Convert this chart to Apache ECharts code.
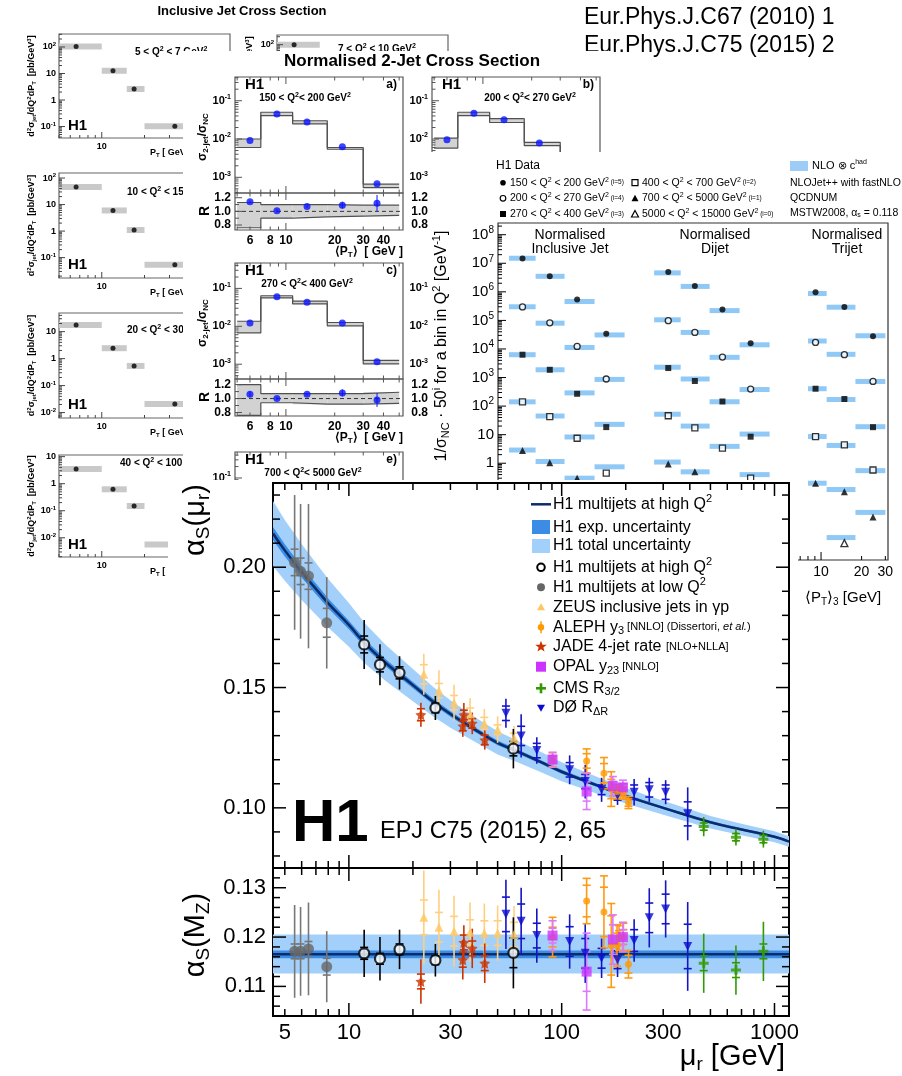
<!DOCTYPE html>
<html>
<head>
<meta charset="utf-8">
<script src="https://cdn.jsdelivr.net/npm/echarts@6/dist/echarts.min.js"></script>
<style>
  html, body { margin: 0; padding: 0; background: #fff; }
  body { width: 902px; height: 1076px; position: relative; overflow: hidden; }
  .fig { position: absolute; background: #fff; }
</style>
</head>
<body>
<div id="incl" class="fig" style="left:0;top:0;width:902px;height:1076px"></div>
<div id="dijet" class="fig" style="left:183px;top:51px;width:430px;height:430px"></div>
<div id="norm" class="fig" style="left:430px;top:152px;width:472px;height:470px"></div>
<div id="main" class="fig" style="left:168px;top:480px;width:630px;height:596px"></div>
<script>
const F = '"Liberation Sans", Arial, Helvetica, sans-serif';

// ---------- inclusive jet panels (background, left) ----------
const inclEdges = [5, 10, 15, 20, 80];
const inclPt = [6.6, 12.0, 16.9, 32.7];
const inclQ5to7 = [104, 12.7, 2.6, 0.103];
const inclQ10to15 = [46, 6.0, 1.1, 0.054];
const inclQ20to30 = [17.7, 2.43, 0.536, 0.021];
const inclQ40to100 = [3.5, 0.62, 0.15, 0.0057];
const inclQ7to10 = [100, 11, 2.3, 0.09];

// ---------- normalised 2-jet panels (background, middle) ----------
const djEdges = [5, 7, 11, 18, 30, 50];
const djPt = [6.0, 8.8, 13.5, 22.3, 36.5];
const djA = [0.0092, 0.045, 0.0278, 0.0063, 0.00068];
const djAlo = [0.006, 0.041, 0.025, 0.0054, 0.00054];
const djAhi = [0.010, 0.050, 0.030, 0.0060, 0.00066];
const djAratio = [1.14, 1.01, 1.07, 1.09, 1.12];
const djAratioErr = [0.02, 0.02, 0.02, 0.05, 0.12];
const djAratioLo = [0.76, 0.90, 0.92, 0.93, 0.94];
const djAratioHi = [1.13, 1.10, 1.10, 1.09, 1.09];
const djB = [0.0095, 0.047, 0.032, 0.0079, 0.0008];
const djBlo = [0.0058, 0.041, 0.027, 0.0067, 0.0007];
const djBhi = [0.0106, 0.050, 0.034, 0.0082, 0.0009];
const djC = [0.0123, 0.060, 0.0428, 0.0123, 0.00117];
const djClo = [0.0067, 0.056, 0.039, 0.0103, 0.00102];
const djChi = [0.0136, 0.064, 0.046, 0.0126, 0.00126];
const djCratio = [1.06, 1.00, 1.06, 1.08, 0.98];
const djCratioErr = [0.04, 0.02, 0.02, 0.05, 0.10];
const djCratioLo = [0.76, 0.94, 0.92, 0.92, 0.93];
const djCratioHi = [1.20, 1.07, 1.07, 1.07, 1.09];

// ---------- normalised multijet figure (background, right) ----------
const nInclEdges = [7, 11, 18, 30, 50];
const nInclPt = [8.8, 14.0, 22.3, 36.6];
const nInclData = {
  i5: [1.47e7, 3.5e6, 5.4e5, 3.4e4], i4: [2.97e5, 8.2e4, 1.23e4, 890], i3: [6.3e3, 1.87e3, 270, 18.4],
  i2: [141, 43, 7.5, 0.45], i1: [2.77, 1.05, 0.3, 0.012]
};
const nInclNlo = {
  i5: [1.5e7, 3.5e6, 4.6e5, 3.1e4], i4: [3.0e5, 8.0e4, 1.13e4, 860], i3: [6.3e3, 1.87e3, 290, 23],
  i2: [141, 45, 8.3, 0.75], i1: [2.9, 1.15, 0.3, 0.012]
};
const nDijEdges = [7, 11, 18, 30, 50];
const nDijPt = [8.9, 14.0, 22.4, 36.2];
const nDijData = {
  i5: [5.0e6, 1.6e6, 2.4e5, 1.6e4], i4: [9.8e4, 3.8e4, 5.2e3, 395], i3: [2.15e3, 755, 145, 8.5],
  i2: [46, 17.4, 3.4, 0.3], i1: [0.95, 0.5, 0.06, 0.01]
};
const nDijNlo = {
  i5: [4.6e6, 1.55e6, 2.2e5, 1.4e4], i4: [1.05e5, 3.8e4, 5.1e3, 380], i3: [2.3e3, 890, 142, 10.5],
  i2: [52, 20, 3.9, 0.4], i1: [1.1, 0.5, 0.07, 0.012]
};
const nTriEdges = [8, 11, 18, 30];
const nTriPt = [9.1, 14.9, 24.3];
const nTriData = {
  i5: [9.7e5, 2.97e5, 2.8e4], i4: [1.7e4, 6.3e3, 730], i3: [406, 177, 18.3],
  i2: [8.6, 4.4, 0.58], i1: [0.2, 0.1, 0.013], i0: [null, 0.0016, null]
};
const nTriNlo = {
  i5: [8.7e5, 2.9e5, 2.9e4], i4: [1.9e4, 6.5e3, 730], i3: [406, 170, 19],
  i2: [8.6, 4.2, 0.55], i1: [0.2, 0.12, 0.019], i0: [null, 0.0025, null]
};

// ---------- main figure: alpha_s running ----------
const curveMu = [4.4, 5, 6, 7, 8, 10, 12, 15, 20, 25, 30, 40, 50, 60, 80, 100, 150, 200, 300, 500, 700, 1000, 1170];
const curveAs = [0.214, 0.207, 0.198, 0.191, 0.185, 0.176, 0.168, 0.160, 0.151, 0.144, 0.139, 0.132, 0.127, 0.124, 0.119, 0.115, 0.109, 0.105, 0.100, 0.094, 0.091, 0.088, 0.086];
const curveTotErr = [0.0135, 0.0126, 0.0116, 0.0108, 0.0101, 0.0091, 0.0083, 0.0075, 0.0067, 0.0061, 0.0057, 0.0051, 0.0048, 0.0045, 0.0042, 0.0039, 0.0035, 0.0032, 0.0029, 0.0026, 0.0024, 0.0023, 0.0022];
const curveExpErr = [0.0027, 0.0025, 0.0023, 0.0022, 0.0020, 0.0018, 0.0017, 0.0015, 0.0013, 0.0012, 0.0011, 0.0010, 0.0010, 0.0009, 0.0008, 0.0008, 0.0007, 0.0006, 0.0006, 0.0005, 0.0005, 0.0005, 0.0004];
const mzMu = [4.4, 1170];
const mzFit = [0.1165, 0.1165];
const mzTotLo = [0.1126, 0.1126], mzTotHi = [0.1205, 0.1205];
const mzExpLo = [0.1157, 0.1157], mzExpHi = [0.1173, 0.1173];

const h1HighMu = [11.8, 14.0, 17.3, 25.5, 59.3];
const h1HighAs = [0.1679, 0.1595, 0.1561, 0.1415, 0.1246];
const h1HighTot = [0.0102, 0.0085, 0.0069, 0.0050, 0.0082];
const h1HighExp = [0.0035, 0.0030, 0.0025, 0.0020, 0.0030];
const h1HighMz = [0.1167, 0.1156, 0.1175, 0.1153, 0.1168];
const h1HighMzTot = [0.0048, 0.0044, 0.0040, 0.0033, 0.0072];
const h1HighMzExp = [0.0012, 0.0011, 0.0011, 0.0009, 0.0030];

const h1LowMu = [5.56, 5.93, 6.46, 7.87];
const h1LowAs = [0.2020, 0.1983, 0.1963, 0.1769];
const h1LowTot = [0.028, 0.028, 0.030, 0.019];
const h1LowExp = [0.0055, 0.0055, 0.0055, 0.0060];
const h1LowMz = [0.1171, 0.1171, 0.1176, 0.1140];
const h1LowMzTot = [0.0094, 0.0090, 0.0094, 0.0072];
const h1LowMzExp = [0.0015, 0.0015, 0.0015, 0.0017];

const zeusMu = [22.5, 26.5, 31.2, 37.1, 43.3, 50.0, 59.7];
const zeusAs = [0.1555, 0.1487, 0.1437, 0.1390, 0.1351, 0.1325, 0.1290];
const zeusTot = [0.0085, 0.0085, 0.0075, 0.0065, 0.0060, 0.0055, 0.0050];
const zeusExp = [0.0040, 0.0030, 0.0030, 0.0025, 0.0025, 0.0020, 0.0020];
const zeusMz = [0.1240, 0.1220, 0.1212, 0.1210, 0.1208, 0.1208, 0.1205];
const zeusMzTot = [0.0095, 0.0076, 0.0072, 0.0060, 0.0060, 0.0056, 0.0058];
const zeusMzExp = [0.0035, 0.0030, 0.0030, 0.0025, 0.0025, 0.0025, 0.0025];

const jadeMu = [21.8, 34.3, 34.7, 38.0, 43.5];
const jadeAs = [0.1387, 0.1340, 0.1386, 0.1351, 0.1282];
const jadeTot = [0.0050, 0.0045, 0.0050, 0.0045, 0.0040];
const jadeExp = [0.0025, 0.0020, 0.0020, 0.0020, 0.0020];
const jadeMz = [0.1110, 0.1154, 0.1189, 0.1177, 0.1147];
const jadeMzTot = [0.0045, 0.0040, 0.0035, 0.0040, 0.0040];
const jadeMzExp = [0.0015, 0.0015, 0.0015, 0.0015, 0.0015];

const alephMu = [90.6, 131, 158, 171, 182, 186, 195, 206];
const alephAs = [0.1199, 0.1195, 0.1144, 0.1078, 0.1068, 0.1075, 0.1061, 0.1022];
const alephTot = [0.0030, 0.0050, 0.0065, 0.0072, 0.0030, 0.0020, 0.0025, 0.0025];
const alephExp = [0.0015, 0.0030, 0.0040, 0.0040, 0.0020, 0.0015, 0.0015, 0.0015];
const alephMz = [0.1200, 0.1273, 0.1251, 0.1183, 0.1183, 0.1198, 0.1200, 0.1145];
const alephMzTot = [0.0040, 0.0046, 0.0073, 0.0085, 0.0042, 0.0025, 0.0028, 0.0028];
const alephMzExp = [0.0020, 0.0032, 0.0050, 0.0060, 0.0025, 0.0015, 0.0015, 0.0018];

const opalMu = [90.6, 131, 174, 194];
const opalAs = [0.1201, 0.1068, 0.1090, 0.1085];
const opalTot = [0.0030, 0.0075, 0.0040, 0.0030];
const opalExp = [0.0015, 0.0040, 0.0020, 0.0015];
const opalMz = [0.1203, 0.1130, 0.1195, 0.1200];
const opalMzTot = [0.0030, 0.0078, 0.0050, 0.0030];
const opalMzExp = [0.0015, 0.0040, 0.0030, 0.0015];

const cmsMu = [465, 659, 887];
const cmsAs = [0.0922, 0.0878, 0.0870];
const cmsTot = [0.0040, 0.0035, 0.0035];
const cmsExp = [0.0015, 0.0015, 0.0015];
const cmsMz = [0.1147, 0.1133, 0.1171];
const cmsMzTot = [0.0060, 0.0050, 0.0060];
const cmsMzExp = [0.0015, 0.0015, 0.0015];

const d0Mu = [54.7, 64.5, 76.4, 109, 129, 154, 183, 219, 258, 308, 391];
const d0As = [0.1393, 0.1299, 0.1238, 0.1158, 0.1109, 0.1075, 0.1052, 0.1065, 0.1075, 0.1065, 0.0975];
const d0Tot = [0.0060, 0.0090, 0.0055, 0.0060, 0.0070, 0.0050, 0.0040, 0.0055, 0.0050, 0.0050, 0.0110];
const d0Exp = [0.0030, 0.0040, 0.0030, 0.0030, 0.0030, 0.0020, 0.0020, 0.0030, 0.0030, 0.0030, 0.0050];
const d0Mz = [0.1246, 0.1232, 0.1203, 0.1191, 0.1167, 0.1157, 0.1154, 0.1193, 0.1239, 0.1257, 0.1181];
const d0MzTot = [0.0070, 0.0068, 0.0055, 0.0055, 0.0060, 0.0040, 0.0035, 0.0043, 0.0060, 0.0058, 0.0090];
const d0MzExp = [0.0035, 0.0035, 0.0025, 0.0030, 0.0030, 0.0020, 0.0018, 0.0022, 0.0030, 0.0030, 0.0045];

// ---------- helpers ----------
function T(size, weight) { return { fontSize: size, fontFamily: F, fontWeight: weight || 'normal' }; }
function R(size, weight) {
  const sm = Math.round(size * 0.66);
  return {
    b: T(size, weight),
    s: Object.assign(T(sm, weight), { padding: [0, 0, Math.round(size * 0.6), 0] }),
    u: Object.assign(T(sm, weight), { padding: [Math.round(size * 0.5), 0, 0, 0] }),
    m: T(sm, weight),
    i: Object.assign(T(sm, weight), { fontStyle: 'italic' })
  };
}
function txt(x, y, text, size, o) {
  o = o || {};
  return {
    type: 'text', x: x, y: y, rotation: o.rot || 0, z: 100,
    style: { text: text, rich: R(size, o.weight), fill: o.fill || '#000', align: o.align || 'left',
      verticalAlign: o.va || 'middle', fontSize: size, fontFamily: F, fontWeight: o.weight || 'normal' }
  };
}
function decLab(d) {
  return d === 0 ? '{b|1}' : d === 1 ? '{b|10}' : '{b|10}{s|' + (d < 0 ? '-' + (-d) : d) + '}';
}
function logTicks(min, max, majLen, minLen, labelFn) {
  const out = [];
  for (let d = Math.floor(Math.log10(min)); d <= Math.ceil(Math.log10(max)); d++) {
    for (let m = 1; m <= 9; m++) {
      const v = m * Math.pow(10, d);
      if (v >= min * 0.9999 && v <= max * 1.0001) {
        out.push({ v: v, len: m === 1 ? majLen : minLen, label: labelFn ? labelFn(m, d) : '' });
      }
    }
  }
  return out;
}
function tickX(gi, ticks, ref, o) {
  o = o || {};
  return {
    type: 'custom', xAxisIndex: gi, yAxisIndex: gi, silent: true, z: 10,
    data: ticks.map(t => [t.v, ref]),
    renderItem: (p, api) => {
      const cs = p.coordSys, t = ticks[p.dataIndex];
      const x = api.coord([t.v, ref])[0];
      const yb = cs.y + cs.height;
      const st = { stroke: o.color || '#000', lineWidth: o.lw || 1 };
      const ch = [];
      ch.push({ type: 'line', shape: { x1: x, y1: yb, x2: x, y2: yb - t.len }, style: st });
      if (o.mirror) ch.push({ type: 'line', shape: { x1: x, y1: cs.y, x2: x, y2: cs.y + t.len }, style: st });
      if (t.label) ch.push({ type: 'text', x: x, y: yb + (o.gap || 3),
        style: { text: t.label, rich: R(o.size || 10, o.weight), align: 'center', verticalAlign: 'top', fill: '#000' } });
      return { type: 'group', children: ch };
    }
  };
}
function tickY(gi, ticks, ref, o) {
  o = o || {};
  return {
    type: 'custom', xAxisIndex: gi, yAxisIndex: gi, silent: true, z: 10,
    data: ticks.map(t => [ref, t.v]),
    renderItem: (p, api) => {
      const cs = p.coordSys, t = ticks[p.dataIndex];
      const y = api.coord([ref, t.v])[1];
      const st = { stroke: o.color || '#000', lineWidth: o.lw || 1 };
      const ch = [{ type: 'line', shape: { x1: cs.x, y1: y, x2: cs.x + t.len, y2: y }, style: st }];
      if (o.mirror) ch.push({ type: 'line', shape: { x1: cs.x + cs.width, y1: y, x2: cs.x + cs.width - t.len, y2: y }, style: st });
      if (t.label) ch.push({ type: 'text', x: cs.x - (o.gap || 3), y: y,
        style: { text: t.label, rich: R(o.size || 10, o.weight), align: 'right', verticalAlign: 'middle', fill: '#000' } });
      return { type: 'group', children: ch };
    }
  };
}
function errBars(gi, mu, val, tot, exp, color, lw, caps) {
  return {
    type: 'custom', xAxisIndex: gi, yAxisIndex: gi, silent: true, z: 3,
    data: mu.map((m, i) => [m, val[i]]),
    renderItem: (p, api) => {
      const i = p.dataIndex, cs = p.coordSys, m = mu[i], v = val[i];
      const cl = y => Math.max(cs.y, Math.min(cs.y + cs.height, y));
      const x = api.coord([m, v])[0];
      const yT = api.coord([m, v + tot[i]])[1], yB = api.coord([m, v - tot[i]])[1];
      const st = { stroke: color, lineWidth: lw };
      const ch = [{ type: 'line', shape: { x1: x, y1: cl(yT), x2: x, y2: cl(yB) }, style: st }];
      const marks = exp ? [v + exp[i], v - exp[i]].map(q => api.coord([m, q])[1]) : [];
      if (caps) marks.push(yT, yB);
      marks.forEach(y => {
        if (y >= cs.y && y <= cs.y + cs.height) ch.push({ type: 'line', shape: { x1: x - 4, y1: y, x2: x + 4, y2: y }, style: st });
      });
      return { type: 'group', children: ch };
    }
  };
}
function band(gi, xs, lo, hi, color, z) {
  return {
    type: 'custom', xAxisIndex: gi, yAxisIndex: gi, silent: true, clip: true, z: z || 1,
    data: [[xs[0], lo[0]]],
    renderItem: (p, api) => {
      const pts = [];
      xs.forEach((x, i) => pts.push(api.coord([x, hi[i]])));
      for (let i = xs.length - 1; i >= 0; i--) pts.push(api.coord([xs[i], lo[i]]));
      return { type: 'polygon', shape: { points: pts }, style: { fill: color } };
    }
  };
}
function hbars(gi, items, color, h) {
  // items: [lowEdge, value, highEdge]
  return {
    type: 'custom', xAxisIndex: gi, yAxisIndex: gi, silent: true, clip: true, z: 2,
    data: items.map(it => [it[0], it[1]]),
    renderItem: (p, api) => {
      const it = items[p.dataIndex];
      const a = api.coord([it[0], it[1]]), b = api.coord([it[2], it[1]]);
      return { type: 'rect', shape: { x: a[0], y: a[1] - h / 2, width: b[0] - a[0], height: h }, style: { fill: color } };
    }
  };
}
function binRects(gi, edges, lo, hi, color) {
  return {
    type: 'custom', xAxisIndex: gi, yAxisIndex: gi, silent: true, clip: true, z: 1,
    data: lo.map((v, i) => [edges[i], v]),
    renderItem: (p, api) => {
      const i = p.dataIndex;
      const a = api.coord([edges[i], hi[i]]), b = api.coord([edges[i + 1], lo[i]]);
      return { type: 'rect', shape: { x: a[0], y: a[1], width: b[0] - a[0], height: b[1] - a[1] }, style: { fill: color } };
    }
  };
}
function stepLine(gi, edges, vals, color) {
  const d = vals.map((v, i) => [edges[i], v]);
  d.push([edges[edges.length - 1], vals[vals.length - 1]]);
  return { type: 'line', xAxisIndex: gi, yAxisIndex: gi, step: 'end', data: d, showSymbol: false, silent: true,
    lineStyle: { color: color, width: 1.2 }, z: 2 };
}
function gridBox(l, t, w, h, show, color, bw) {
  return { left: l, top: t, width: w, height: h, show: !!show, borderColor: color || '#000', borderWidth: bw || 1,
    backgroundColor: 'transparent', containLabel: false, outerBoundsMode: 'none' };
}
function axis(type, gi, min, max) {
  return { type: type, gridIndex: gi, min: min, max: max, axisLine: { show: false }, axisTick: { show: false },
    axisLabel: { show: false }, splitLine: { show: false } };
}

// ================= figure 1: inclusive jet cross sections =================
(function () {
  const panels = [
    { left: 59, top: 34, h: 104, ymin: 0.037, ymax: 309, vals: inclQ5to7, q: '{b|5 < Q}{s|2}{b| < 7 GeV}{s|2}', qx: 135, qy: 52, h1y: 126 },
    { left: 59, top: 173, h: 105, ymin: 0.017, ymax: 155, vals: inclQ10to15, q: '{b|10 < Q}{s|2}{b| < 15 GeV}{s|2}', qx: 127, qy: 192, h1y: 265 },
    { left: 59, top: 313, h: 105, ymin: 0.0063, ymax: 49, vals: inclQ20to30, q: '{b|20 < Q}{s|2}{b| < 30 GeV}{s|2}', qx: 127, qy: 330, h1y: 405 },
    { left: 59, top: 455, h: 102, ymin: 0.00195, ymax: 11.5, vals: inclQ40to100, q: '{b|40 < Q}{s|2}{b| < 100 GeV}{s|2}', qx: 120, qy: 463, h1y: 545 },
    { left: 277, top: 35, h: 104, ymin: 0.0275, ymax: 232, vals: inclQ7to10, q: '{b|7 < Q}{s|2}{b| < 10 GeV}{s|2}', qx: 338, qy: 49, h1y: 126 }
  ];
  const grid = [], xAxis = [], yAxis = [], series = [], g = [];
  panels.forEach((P, gi) => {
    grid.push(gridBox(P.left, P.top, 171, P.h, true, '#666', 1.2));
    xAxis.push(axis('log', gi, 5, 80));
    yAxis.push(axis('log', gi, P.ymin, P.ymax));
    series.push(hbars(gi, P.vals.map((v, i) => [inclEdges[i], v, inclEdges[i + 1]]), '#c9c9c9', 6));
    series.push({ type: 'scatter', xAxisIndex: gi, yAxisIndex: gi, symbol: 'circle', symbolSize: 5, z: 4,
      itemStyle: { color: '#000' }, data: P.vals.map((v, i) => [inclPt[i], v]) });
    series.push(tickY(gi, logTicks(P.ymin, P.ymax, 6, 3, (m, d) => m === 1 ? decLab(d) : ''), 10, { size: 9, weight: 'bold', gap: 3, color: '#444' }));
    series.push(tickX(gi, logTicks(5, 80, 6, 3, (m, d) => (m === 1 && d === 1) ? '{b|10}' : ''), P.ymin * 1.01, { size: 9, weight: 'bold', gap: 4, color: '#444' }));
    g.push(txt(P.left + 9, P.h1y, '{b|H1}', 15, { weight: 'bold' }));
    g.push(txt(P.qx, P.qy, P.q, 10, { weight: 'bold' }));
    g.push(txt(P.left + 91, P.top + P.h + 15, '{b|P}{u|T}{b| [ GeV ]}', 9, { weight: 'bold' }));
    g.push(txt(P.left - 27, P.top + P.h / 2,
      '{b|d}{s|2}{b|σ}{u|jet}{b|/dQ}{s|2}{b|dP}{u|T}{b|  [pb/GeV}{s|3}{b|]}', 9, { weight: 'bold', align: 'center', rot: Math.PI / 2 }));
  });
  g.push(txt(242, 11, '{b|Inclusive Jet Cross Section}', 13, { weight: 'bold', align: 'center' }));
  g.push(txt(584, 18, '{b|Eur.Phys.J.C67 (2010) 1}', 23, { align: 'left' }));
  g.push(txt(584, 46, '{b|Eur.Phys.J.C75 (2015) 2}', 23, { align: 'left' }));
  const c = echarts.init(document.getElementById('incl'), null, { renderer: 'canvas' });
  c.setOption({ backgroundColor: '#fff', animation: false, grid: grid, xAxis: xAxis, yAxis: yAxis, series: series, graphic: { elements: g } });
})();

// ================= figure 2: normalised 2-jet cross section =================
(function () {
  const xmin = 4.85, xmax = 52.8;
  const panels = [
    { left: 52, top: 26, ymin: Math.pow(10, -3.41), ymax: Math.pow(10, -0.38), rmin: 0.727, rmax: 1.269,
      val: djA, lo: djAlo, hi: djAhi, r: djAratio, rErr: djAratioErr, rlo: djAratioLo, rhi: djAratioHi,
      q: '{b|150 < Q}{s|2}{b|< 200 GeV}{s|2}', qx: 122, tag: 'a)', xlab: true, titles: true },
    { left: 249, top: 26, ymin: Math.pow(10, -3.41), ymax: Math.pow(10, -0.38), rmin: 0.727, rmax: 1.269,
      val: djB, lo: djBlo, hi: djBhi, q: '{b|200 < Q}{s|2}{b|< 270 GeV}{s|2}', qx: 347, tag: 'b)' },
    { left: 52, top: 212, ymin: Math.pow(10, -3.39), ymax: Math.pow(10, -0.33), rmin: 0.75, rmax: 1.28,
      val: djC, lo: djClo, hi: djChi, r: djCratio, rErr: djCratioErr, rlo: djCratioLo, rhi: djCratioHi,
      q: '{b|270 < Q}{s|2}{b|< 400 GeV}{s|2}', qx: 124, tag: 'c)', xlab: true, titles: true },
    { left: 249, top: 212, ymin: Math.pow(10, -3.39), ymax: Math.pow(10, -0.33), rmin: 0.75, rmax: 1.28 },
    { left: 52, top: 401, ymin: Math.pow(10, -3.37), ymax: Math.pow(10, -0.316), noRatio: true,
      q: '{b|700 < Q}{s|2}{b|< 5000 GeV}{s|2}', qx: 130, tag: 'e)' }
  ];
  const grid = [], xAxis = [], yAxis = [], series = [], g = [];
  let gi = 0;
  panels.forEach(P => {
    const gu = gi++;
    grid.push(gridBox(P.left, P.top, 168, 116, true, '#555', 1.2));
    xAxis.push(axis('log', gu, xmin, xmax));
    yAxis.push(axis('log', gu, P.ymin, P.ymax));
    if (P.val) {
      series.push(binRects(gu, djEdges, P.lo, P.hi, '#d2d2d2'));
      series.push(stepLine(gu, djEdges, P.hi, '#505050'));
      series.push(stepLine(gu, djEdges, P.lo, '#505050'));
      series.push({ type: 'scatter', xAxisIndex: gu, yAxisIndex: gu, symbolSize: 7, z: 4,
        itemStyle: { color: '#0a14ff' }, data: P.val.map((v, i) => [djPt[i], v]) });
    }
    series.push(tickY(gu, logTicks(P.ymin, P.ymax, 7, 3.5, (m, d) => m === 1 ? decLab(d) : ''), 10, { size: 11, weight: 'bold', gap: 4, color: '#555' }));
    series.push(tickX(gu, logTicks(xmin, xmax, 7, 3.5), P.ymin * 1.01, { color: '#555', mirror: true }));
    if (P.tag) {
      g.push(txt(P.left + 10, P.top + 8, '{b|H1}', 15, { weight: 'bold' }));
      g.push(txt(P.left + 162, P.top + 8, '{b|' + P.tag + '}', 12, { weight: 'bold', align: 'right' }));
      g.push(txt(P.qx, P.top + 21, P.q, 10, { weight: 'bold', align: 'center' }));
    }
    if (P.noRatio) return;
    const gr = gi++;
    grid.push(gridBox(P.left, P.top + 116, 168, 37, true, '#555', 1.2));
    xAxis.push(axis('log', gr, xmin, xmax));
    yAxis.push(axis('value', gr, P.rmin, P.rmax));
    if (P.r) {
      series.push(binRects(gr, djEdges, P.rlo, P.rhi, '#d2d2d2'));
      series.push(stepLine(gr, djEdges, P.rhi, '#505050'));
      series.push(stepLine(gr, djEdges, P.rlo, '#505050'));
      series.push({ type: 'line', xAxisIndex: gr, yAxisIndex: gr, data: [[xmin, 1], [xmax, 1]], showSymbol: false, silent: true,
        lineStyle: { color: '#333', width: 1, type: [4, 3] }, z: 2 });
      series.push(errBars(gr, djPt, P.r, P.rErr, null, '#0a14ff', 1, false));
      series.push({ type: 'scatter', xAxisIndex: gr, yAxisIndex: gr, symbolSize: 7, z: 4,
        itemStyle: { color: '#0a14ff' }, data: P.r.map((v, i) => [djPt[i], v]) });
    }
    const rt = [0.8, 0.9, 1.0, 1.1, 1.2].map((v, i) => ({ v: v, len: i % 2 === 0 ? 7 : 4, label: i % 2 === 0 ? '{b|' + v.toFixed(1) + '}' : '' }));
    series.push(tickY(gr, rt, 10, { size: 12, weight: 'bold', gap: 4, color: '#555' }));
    const xl = { 6: '6', 8: '8', 10: '10', 20: '20', 30: '30', 40: '40' };
    series.push(tickX(gr, logTicks(xmin, xmax, 7, 3.5, (m, d) => {
      const v = Math.round(m * Math.pow(10, d));
      return xl[v] ? '{b|' + xl[v] + '}' : '';
    }), 1, { color: '#555', mirror: true, size: 12, weight: 'bold', gap: 5 }));
    if (P.titles) {
      g.push(txt(P.left - 32, P.top + 60, '{b|σ}{u|2-jet}{b|/σ}{u|NC}', 12, { weight: 'bold', align: 'center', rot: Math.PI / 2 }));
      g.push(txt(P.left - 30, P.top + 134, '{b|R}', 14, { weight: 'bold', align: 'center', rot: Math.PI / 2 }));
    }
    if (P.xlab) g.push(txt(P.left + 168, P.top + 175, '{b|⟨P}{u|T}{b|⟩  [ GeV ]}', 12, { weight: 'bold', align: 'right' }));
  });
  g.push(txt(229, 10, '{b|Normalised 2-Jet Cross Section}', 17, { weight: 'bold', align: 'center' }));
  const c = echarts.init(document.getElementById('dijet'), null, { renderer: 'canvas' });
  c.setOption({ backgroundColor: '#fff', animation: false, grid: grid, xAxis: xAxis, yAxis: yAxis, series: series, graphic: { elements: g } });
})();

// ================= figure 3: normalised multijet overview =================
(function () {
  const ymin = 4.1e-4, ymax = 2.57e8;
  const grid = [gridBox(68, 71, 390, 337, true, '#333', 1.2), gridBox(68, 71, 142, 337), gridBox(210, 71, 145, 337), gridBox(355, 71, 103, 337)];
  const xAxis = [axis('value', 0, 0, 1), axis('log', 1, 5.8, 65), axis('log', 2, 5.5, 65), axis('log', 3, 5.4, 31.4)];
  const yAxis = [0, 1, 2, 3].map(i => axis('log', i, ymin, ymax));
  const syms = {
    i5: { symbol: 'circle', size: 6, fill: '#000' }, i4: { symbol: 'circle', size: 6, fill: '#fff' },
    i3: { symbol: 'rect', size: 6, fill: '#000' }, i2: { symbol: 'rect', size: 6, fill: '#fff' },
    i1: { symbol: 'triangle', size: 7, fill: '#000' }, i0: { symbol: 'triangle', size: 7, fill: '#fff' }
  };
  const groups = [
    { gi: 1, edges: nInclEdges, pt: nInclPt, data: nInclData, nlo: nInclNlo },
    { gi: 2, edges: nDijEdges, pt: nDijPt, data: nDijData, nlo: nDijNlo },
    { gi: 3, edges: nTriEdges, pt: nTriPt, data: nTriData, nlo: nTriNlo }
  ];
  const series = [];
  groups.forEach(G => {
    const items = [];
    Object.keys(G.nlo).forEach(k => G.nlo[k].forEach((v, i) => { if (v != null) items.push([G.edges[i], v, G.edges[i + 1]]); }));
    series.push(hbars(G.gi, items, '#90c8f6', 5));
    Object.keys(G.data).forEach(k => {
      const s = syms[k];
      series.push({ type: 'scatter', xAxisIndex: G.gi, yAxisIndex: G.gi, symbol: s.symbol, symbolSize: s.size, z: 4,
        itemStyle: { color: s.fill, borderColor: '#000', borderWidth: s.fill === '#fff' ? 1.3 : 0 },
        data: G.data[k].map((v, i) => v == null ? null : [G.pt[i], v]).filter(d => d) });
    });
  });
  series.push(tickY(0, logTicks(ymin, ymax, 8, 4, (m, d) => m === 1 ? decLab(d) : ''), 0.5, { size: 15, gap: 4 }));
  series.push(tickX(3, logTicks(5.4, 31.4, 8, 4, (m, d) => (m >= 1 && m <= 3 && d === 1) ? '{b|' + (m * 10) + '}' : ''), 1, { size: 14, gap: 5 }));
  const g = [];
  g.push(txt(140, 83, '{b|Normalised}', 14, { align: 'center' }));
  g.push(txt(140, 97, '{b|Inclusive Jet}', 14, { align: 'center' }));
  g.push(txt(285, 83, '{b|Normalised}', 14, { align: 'center' }));
  g.push(txt(285, 97, '{b|Dijet}', 14, { align: 'center' }));
  g.push(txt(417, 83, '{b|Normalised}', 14, { align: 'center' }));
  g.push(txt(417, 97, '{b|Trijet}', 14, { align: 'center' }));
  g.push(txt(12, 194, '{b|1/σ}{u|NC}{b| · 50}{s|i}{b| for a bin in Q}{s|2}{b| [GeV}{s|-1}{b|]}', 16, { align: 'center', rot: Math.PI / 2 }));
  g.push(txt(375, 446, '{b|⟨P}{u|T}{b|⟩}{u|3}{b| [GeV]}', 15));
  // legend
  g.push(txt(66, 14, '{b|H1 Data}', 12));
  const rows = [
    ['i5', 73, 30.7, '150 < Q', ' < 200 GeV', '5'], ['i4', 73, 46.3, '200 < Q', ' < 270 GeV', '4'], ['i3', 73, 62, '270 < Q', ' < 400 GeV', '3'],
    ['i2', 205, 30.7, '400 < Q', ' < 700 GeV', '2'], ['i1', 205, 46.3, '700 < Q', ' < 5000 GeV', '1'], ['i0', 205, 62, '5000 < Q', ' < 15000 GeV', '0']
  ];
  rows.forEach(r => {
    const s = syms[r[0]], x = r[1], y = r[2];
    let el;
    if (s.symbol === 'circle') el = { type: 'circle', shape: { cx: x, cy: y, r: 2.8 } };
    else if (s.symbol === 'rect') el = { type: 'rect', shape: { x: x - 3, y: y - 3, width: 6, height: 6 } };
    else el = { type: 'polygon', shape: { points: [[x, y - 3.5], [x + 3.5, y + 3], [x - 3.5, y + 3]] } };
    el.style = { fill: s.fill, stroke: '#000', lineWidth: s.fill === '#fff' ? 1.2 : 0 };
    el.z = 100;
    g.push(el);
    const el2 = txt(x + 7, y, '{b|' + r[3] + '}{s|2}{b|' + r[4] + '}{s|2}{m| (i=' + r[5] + ')}', 10.5);
    el2.style.rich.m = T(6.5);
    g.push(el2);
  });
  g.push({ type: 'rect', shape: { x: 360, y: 9, width: 18, height: 10 }, style: { fill: '#9dcdf7' }, z: 100 });
  g.push(txt(382, 14, '{b|NLO ⊗ c}{s|had}', 11));
  g.push(txt(360, 31, '{b|NLOJet++ with fastNLO}', 10.5));
  g.push(txt(360, 46, '{b|QCDNUM}', 10.5));
  g.push(txt(360, 61, '{b|MSTW2008, α}{u|s}{b| = 0.118}', 10.5));
  const c = echarts.init(document.getElementById('norm'), null, { renderer: 'canvas' });
  c.setOption({ backgroundColor: '#fff', animation: false, grid: grid, xAxis: xAxis, yAxis: yAxis, series: series, graphic: { elements: g } });
})();

// ================= figure 4: alpha_s(mu_r) main plot =================
(function () {
  const xmin = 4.4, xmax = 1170;
  const grid = [gridBox(105, 3, 516, 385, true, '#000', 2), gridBox(105, 388, 516, 148, true, '#000', 2)];
  const xAxis = [axis('log', 0, xmin, xmax), axis('log', 1, xmin, xmax)];
  const yAxis = [axis('value', 0, 0.075, 0.235), axis('value', 1, 0.104, 0.134)];
  const cLoT = curveAs.map((v, i) => v - curveTotErr[i]), cHiT = curveAs.map((v, i) => v + curveTotErr[i]);
  const cLoE = curveAs.map((v, i) => v - curveExpErr[i]), cHiE = curveAs.map((v, i) => v + curveExpErr[i]);
  const series = [
    band(0, curveMu, cLoT, cHiT, '#a3d0fa', 1),
    band(0, curveMu, cLoE, cHiE, '#3a8ce4', 1),
    { type: 'line', xAxisIndex: 0, yAxisIndex: 0, data: curveMu.map((m, i) => [m, curveAs[i]]), smooth: true, showSymbol: false,
      silent: true, lineStyle: { color: '#0b2c6c', width: 2.5 }, z: 2 },
    band(1, mzMu, mzTotLo, mzTotHi, '#a3d0fa', 1),
    band(1, mzMu, mzExpLo, mzExpHi, '#3a8ce4', 1),
    { type: 'line', xAxisIndex: 1, yAxisIndex: 1, data: mzMu.map((m, i) => [m, mzFit[i]]), showSymbol: false,
      silent: true, lineStyle: { color: '#0b2c6c', width: 2.5 }, z: 2 }
  ];
  const star = 'path://M0,-10L2.9,-4L9.5,-3.1L4.7,1.5L5.9,8.1L0,5L-5.9,8.1L-4.7,1.5L-9.5,-3.1L-2.9,-4Z';
  const plus = 'path://M-1.2,-4H1.2V-1.2H4V1.2H1.2V4H-1.2V1.2H-4V-1.2H-1.2Z';
  const sets = [
    { mu: zeusMu, up: [zeusAs, zeusTot, zeusExp], lo: [zeusMz, zeusMzTot, zeusMzExp], bar: '#ffcf7f', color: '#ffc560', symbol: 'triangle', size: 9 },
    { mu: jadeMu, up: [jadeAs, jadeTot, jadeExp], lo: [jadeMz, jadeMzTot, jadeMzExp], bar: '#cc3300', color: '#cc3300', symbol: star, size: 11 },
    { mu: d0Mu, up: [d0As, d0Tot, d0Exp], lo: [d0Mz, d0MzTot, d0MzExp], bar: '#1414c8', color: '#0a0ad0', symbol: 'triangle', rot: 180, size: 9 },
    { mu: alephMu, up: [alephAs, alephTot, alephExp], lo: [alephMz, alephMzTot, alephMzExp], bar: '#ff9a10', color: '#ff9900', symbol: 'circle', size: 7, caps: true },
    { mu: opalMu, up: [opalAs, opalTot, opalExp], lo: [opalMz, opalMzTot, opalMzExp], bar: '#dd77ff', color: '#cc33ff', symbol: 'rect', size: 10, caps: true },
    { mu: cmsMu, up: [cmsAs, cmsTot, cmsExp], lo: [cmsMz, cmsMzTot, cmsMzExp], bar: '#339900', color: '#339900', symbol: plus, size: 10 },
    { mu: h1LowMu, up: [h1LowAs, h1LowTot, h1LowExp], lo: [h1LowMz, h1LowMzTot, h1LowMzExp], bar: '#777', color: '#666', symbol: 'circle', size: 11 },
    { mu: h1HighMu, up: [h1HighAs, h1HighTot, h1HighExp], lo: [h1HighMz, h1HighMzTot, h1HighMzExp], bar: '#000', color: '#fff', border: '#000', symbol: 'circle', size: 10 }
  ];
  sets.forEach(S => {
    [[0, S.up], [1, S.lo]].forEach(([gi, d]) => {
      series.push(errBars(gi, S.mu, d[0], d[1], d[2], S.bar, 1.6, S.caps));
      series.push({ type: 'scatter', xAxisIndex: gi, yAxisIndex: gi, symbol: S.symbol, symbolSize: S.size, symbolRotate: S.rot || 0, z: 4,
        itemStyle: { color: S.color, borderColor: S.border || S.color, borderWidth: S.border ? 2.2 : 0 },
        data: S.mu.map((m, i) => [m, d[0][i]]) });
    });
  });
  const yUp = [];
  for (let k = 8; k <= 23; k++) yUp.push({ v: k / 100, len: k % 5 === 0 ? 13 : 7, label: k % 5 === 0 ? '{b|' + (k / 100).toFixed(2) + '}' : '' });
  const yLo = [];
  for (let k = 53; k <= 67; k++) yLo.push({ v: k * 0.002, len: k % 5 === 0 ? 13 : 7, label: k % 5 === 0 ? '{b|' + (k * 0.002).toFixed(2) + '}' : '' });
  const xLab = { 5: '5', 10: '10', 30: '30', 100: '100', 300: '300', 1000: '1000' };
  const xLabFn = (m, d) => { const v = Math.round(m * Math.pow(10, d)); return xLab[v] ? '{b|' + xLab[v] + '}' : ''; };
  series.push(tickY(0, yUp, 10, { size: 22, gap: 7, mirror: true, lw: 1.5 }));
  series.push(tickY(1, yLo, 10, { size: 22, gap: 7, mirror: true, lw: 1.5 }));
  series.push(tickX(0, logTicks(xmin, xmax, 13, 7), 0.1, { mirror: true, lw: 1.5 }));
  series.push(tickX(1, logTicks(xmin, xmax, 13, 7, xLabFn), 0.11, { mirror: true, lw: 1.5, size: 22, gap: 6 }));

  const g = [];
  g.push(txt(28, 40, '{b|α}{u|S}{b|(μ}{u|r}{b|)}', 29, { align: 'center', rot: Math.PI / 2 }));
  g.push(txt(28, 455, '{b|α}{u|S}{b|(M}{u|Z}{b|)}', 29, { align: 'center', rot: Math.PI / 2 }));
  g.push(txt(617, 577, '{b|μ}{u|r}{b| [GeV]}', 29, { align: 'right' }));
  g.push(txt(124, 344, '{b|H1}', 60, { weight: 'bold' }));
  g.push(txt(212, 352, '{b|EPJ C75 (2015) 2, 65}', 23.5));
  // legend
  const LX = 373, TX = 385;
  const ly = [24.3, 47.3, 66, 87.3, 107.3, 127.3, 147.3, 166.7, 186.7, 208.3, 227.7];
  const lt = [
    '{b|H1 multijets at high Q}{s|2}', '{b|H1 exp. uncertainty}', '{b|H1 total uncertainty}',
    '{b|H1 multijets at high Q}{s|2}', '{b|H1 multijets at low Q}{s|2}', '{b|ZEUS inclusive jets in γp}',
    '{b|ALEPH y}{u|3}{m| [NNLO] (Dissertori, }{i|et al.}{m|)}', '{b|JADE 4-jet rate }{m|[NLO+NLLA]}',
    '{b|OPAL y}{u|23}{m| [NNLO]}', '{b|CMS R}{u|3/2}', '{b|DØ R}{u|ΔR}'
  ];
  lt.forEach((t, i) => g.push(txt(TX, ly[i], t, 16)));
  g.push({ type: 'line', shape: { x1: 363, y1: ly[0], x2: 383, y2: ly[0] }, style: { stroke: '#0b2c6c', lineWidth: 2.5 }, z: 100 });
  g.push({ type: 'rect', shape: { x: 364, y: 40, width: 18, height: 14 }, style: { fill: '#3a8ce4' }, z: 100 });
  g.push({ type: 'rect', shape: { x: 364, y: 59, width: 18, height: 14 }, style: { fill: '#a3d0fa' }, z: 100 });
  g.push({ type: 'circle', shape: { cx: LX, cy: ly[3], r: 3.8 }, style: { fill: '#fff', stroke: '#000', lineWidth: 2 }, z: 100 });
  g.push({ type: 'circle', shape: { cx: LX, cy: ly[4], r: 4 }, style: { fill: '#666' }, z: 100 });
  g.push({ type: 'polygon', shape: { points: [[LX, ly[5] - 4], [LX + 4, ly[5] + 3], [LX - 4, ly[5] + 3]] }, style: { fill: '#ffc560' }, z: 100 });
  g.push({ type: 'line', shape: { x1: LX, y1: ly[6] - 6, x2: LX, y2: ly[6] + 6 }, style: { stroke: '#ff9900', lineWidth: 1.5 }, z: 100 });
  g.push({ type: 'circle', shape: { cx: LX, cy: ly[6], r: 3.2 }, style: { fill: '#ff9900' }, z: 100 });
  const sp = [];
  for (let k = 0; k < 10; k++) {
    const a = -Math.PI / 2 + k * Math.PI / 5, r = k % 2 === 0 ? 6 : 2.5;
    sp.push([LX + r * Math.cos(a), ly[7] + r * Math.sin(a)]);
  }
  g.push({ type: 'polygon', shape: { points: sp }, style: { fill: '#cc3300' }, z: 100 });
  g.push({ type: 'rect', shape: { x: LX - 5, y: ly[8] - 5, width: 10, height: 10 }, style: { fill: '#cc33ff' }, z: 100 });
  g.push({ type: 'rect', shape: { x: LX - 5, y: ly[9] - 1.3, width: 10, height: 2.6 }, style: { fill: '#339900' }, z: 100 });
  g.push({ type: 'rect', shape: { x: LX - 1.3, y: ly[9] - 5, width: 2.6, height: 10 }, style: { fill: '#339900' }, z: 100 });
  g.push({ type: 'polygon', shape: { points: [[LX - 4, ly[10] - 3], [LX + 4, ly[10] - 3], [LX, ly[10] + 4]] }, style: { fill: '#0a0ad0' }, z: 100 });
  const c = echarts.init(document.getElementById('main'), null, { renderer: 'canvas' });
  c.setOption({ backgroundColor: '#fff', animation: false, grid: grid, xAxis: xAxis, yAxis: yAxis, series: series, graphic: { elements: g } });
})();
</script>
</body>
</html>
